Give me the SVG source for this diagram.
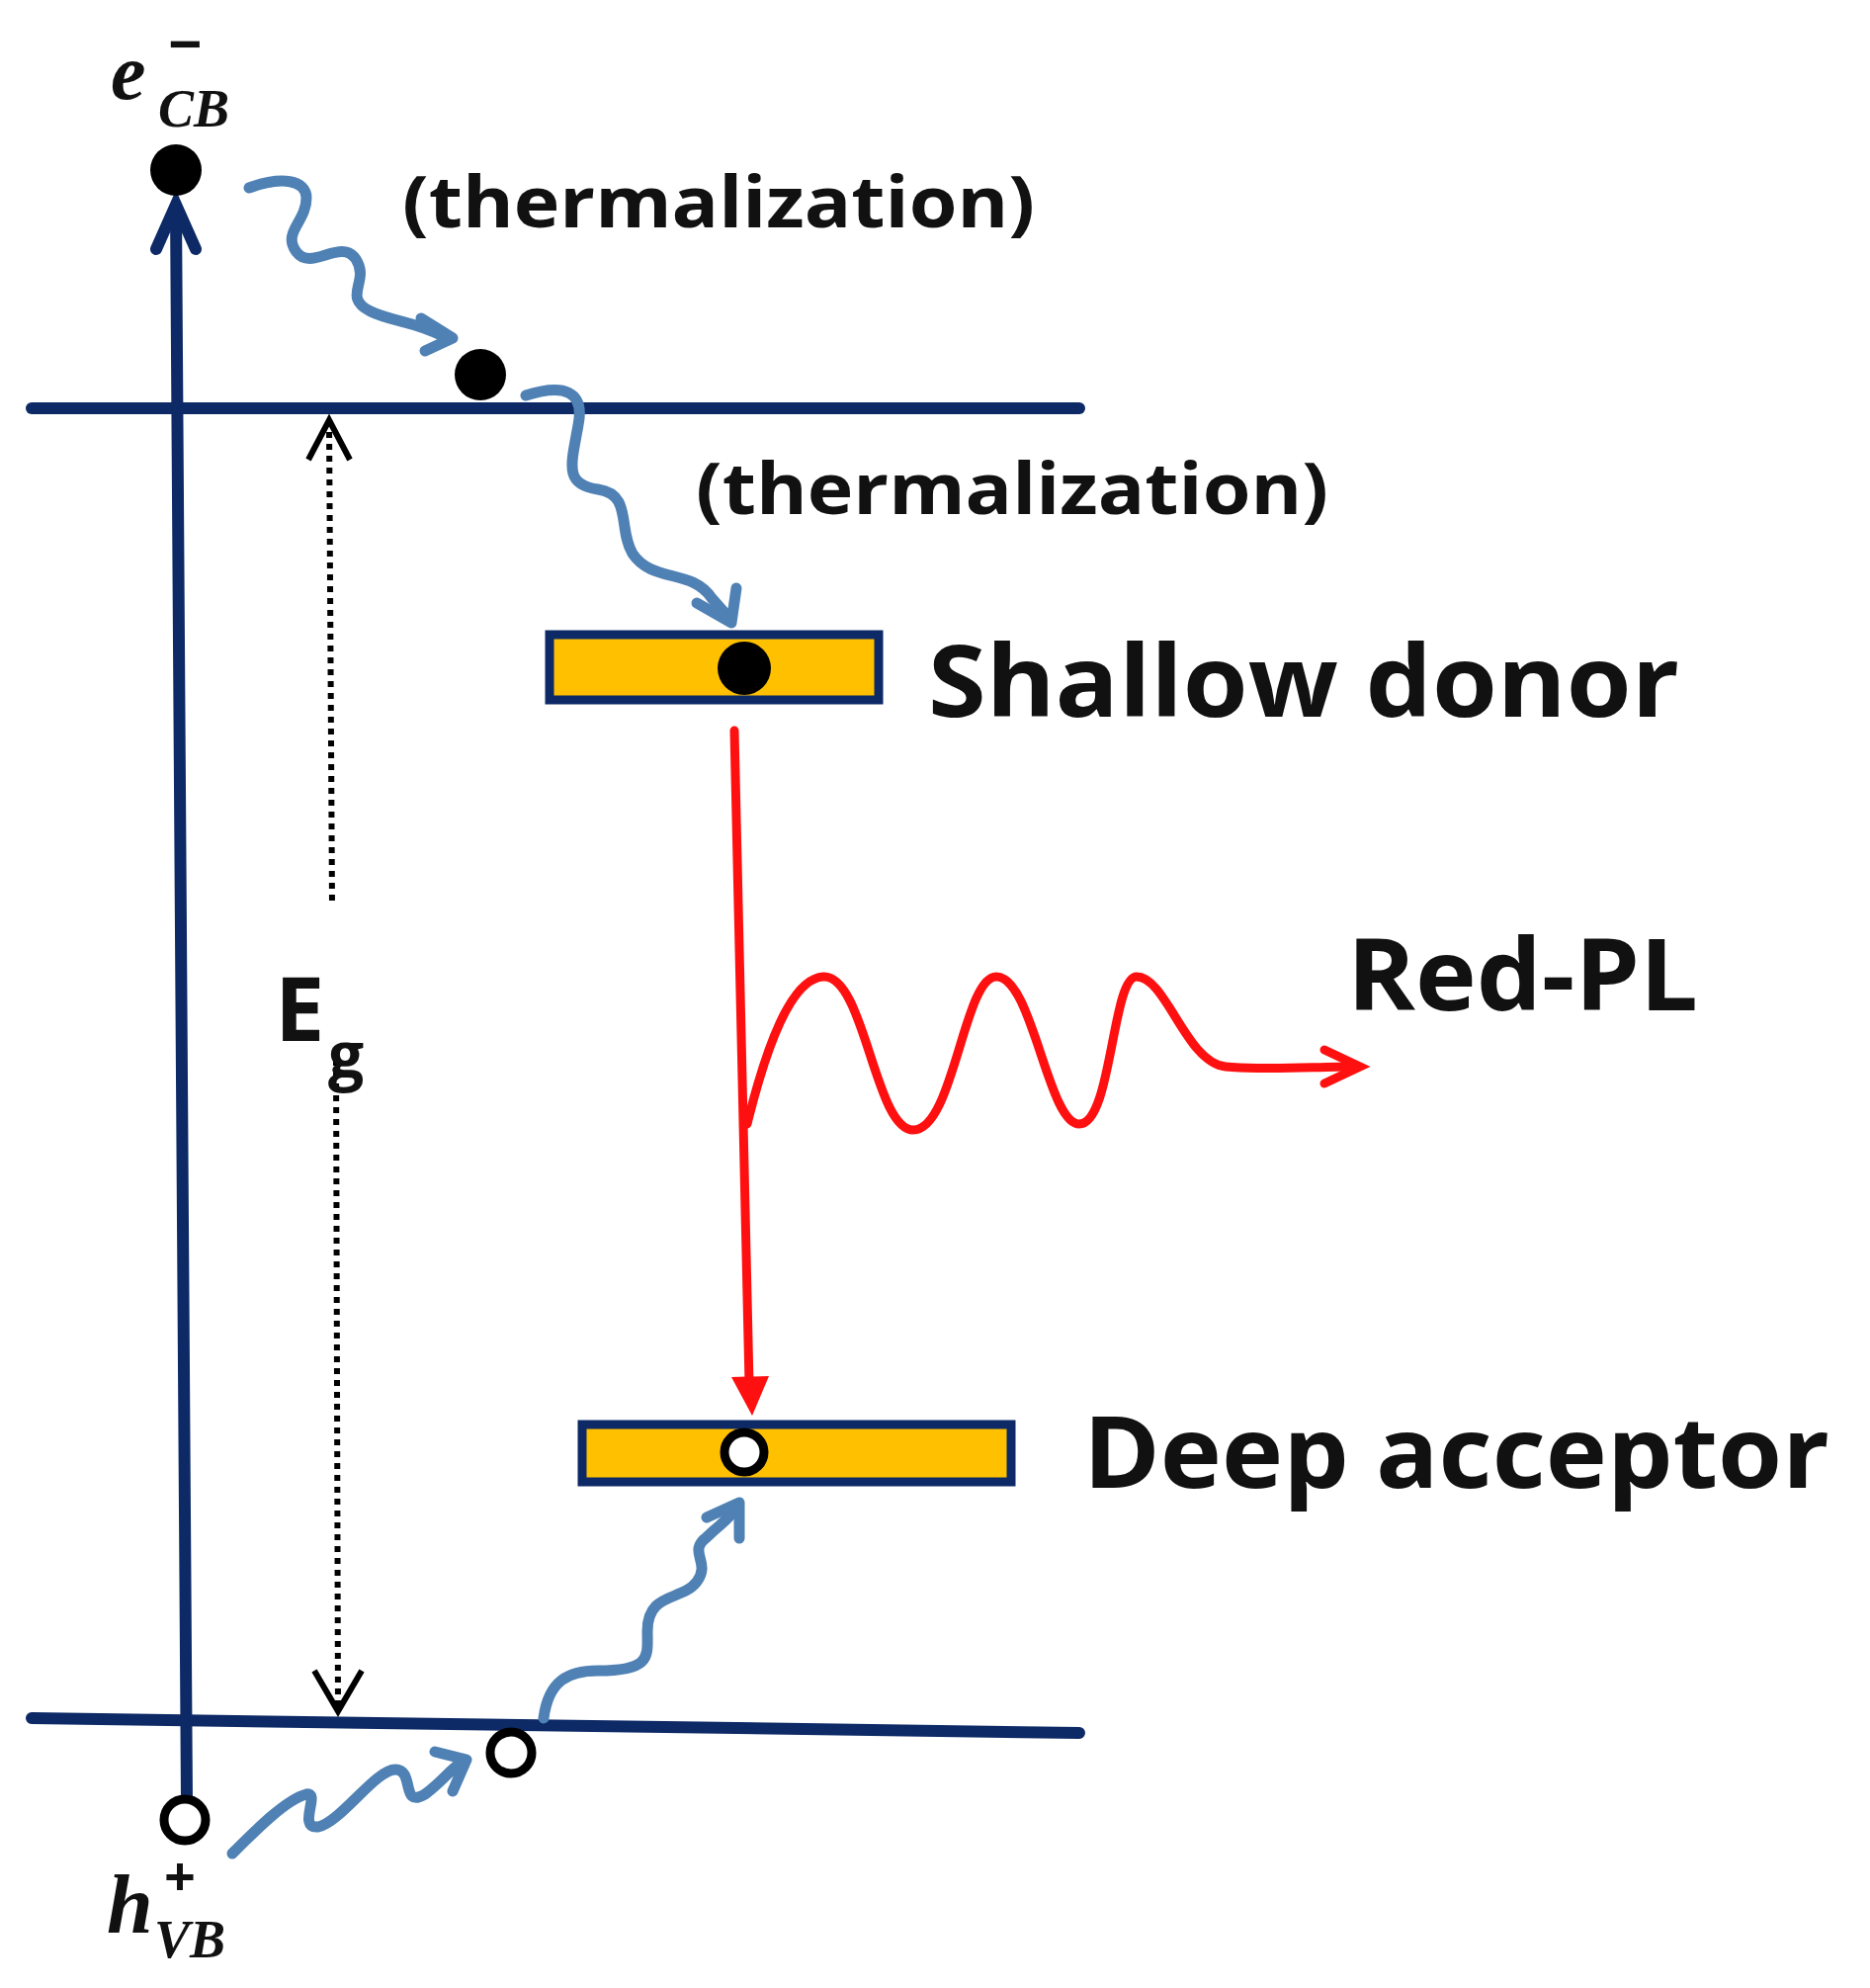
<svg xmlns="http://www.w3.org/2000/svg" width="1892" height="2011" viewBox="0 0 1892 2011">
<style>
.band{stroke:#0d2a66;stroke-width:12;fill:none;stroke-linecap:round}
.lvl{fill:#ffc000;stroke:#0d2a66;stroke-width:9}
.wave{stroke:#4f81b4;stroke-width:11;fill:none;stroke-linecap:round;stroke-linejoin:round}
.red{stroke:#ff1010;stroke-width:9;fill:none;stroke-linecap:round}
.t{font-family:"Open Sans","Liberation Sans",sans-serif;font-weight:bold;fill:#111}
.m{font-family:"Liberation Serif",serif;font-weight:bold;font-style:italic;fill:#111}
.dot{fill:#000}
.hole{fill:#fff;stroke:#000;stroke-width:9}
</style>
<g id="connectors">
<line class="band" x1="32" y1="413" x2="1092" y2="413"/>
<line class="band" x1="32" y1="1738" x2="1092" y2="1753"/>
<line class="band" x1="178" y1="210" x2="189" y2="1822"/>
<path class="band" d="M158,252 L178,207 L198,252" stroke-width="9"/>
<line x1="333" y1="425" x2="336" y2="917" stroke="#000" stroke-width="6" stroke-dasharray="6,6"/>
<path d="M312,465 L333,425 L354,465" stroke="#000" stroke-width="6" fill="none"/>
<line x1="340" y1="1072" x2="342" y2="1731" stroke="#000" stroke-width="6" stroke-dasharray="6,6"/>
<path d="M318,1690 L342,1731 L366,1690" stroke="#000" stroke-width="6" fill="none"/>
<path class="wave" d="M252,190 C285,178 310,182 310,200 C310,225 285,235 300,255 C315,275 345,240 360,262 C375,285 345,300 375,315 C395,325 420,325 448,340"/>
<path class="wave" d="M426,322 L458,342 L430,355"/>
<path class="wave" d="M532,400 C570,388 592,395 585,430 C578,470 570,490 605,495 C640,500 625,535 640,560 C660,590 700,575 720,605 L735,622"/>
<path class="wave" d="M705,610 L740,630 L745,595"/>
<path class="wave" d="M235,1875 C260,1850 290,1820 310,1815 C325,1812 300,1850 322,1848 C345,1843 380,1790 400,1790 C420,1790 405,1830 430,1815 C450,1800 455,1790 468,1782"/>
<path class="wave" d="M440,1772 L472,1780 L458,1812"/>
<path class="wave" d="M550,1738 C555,1700 575,1690 605,1690 C660,1690 655,1675 655,1650 C655,1610 690,1620 705,1600 C720,1580 695,1570 715,1555 C730,1540 735,1540 745,1525"/>
<path class="wave" d="M715,1535 L748,1520 L748,1556"/>
<path class="red" d="M743,739 L758,1400"/>
<path d="M740,1393 L761,1432 L778,1392 Z" fill="#ff1010"/>
<path class="red" d="M756,1137 C775,1060 800,990 833,988 C875,986 885,1143 924,1143 C965,1143 975,988 1008,988 C1045,988 1060,1137 1092,1137 C1125,1137 1125,988 1150,988 C1180,988 1200,1075 1240,1079 C1280,1083 1330,1079 1370,1079"/>
<path class="red" d="M1340,1062 L1376,1079 L1340,1096"/>
</g>
<g id="e-cb"><circle class="dot" cx="178" cy="172" r="26"/>
<text class="m" x="112" y="100" font-size="80">e</text><text class="m" x="160" y="128" font-size="54" font-weight="normal">CB</text><text class="t" x="170" y="66" font-size="60">−</text></g>
<g id="e-mid"><circle class="dot" cx="486" cy="379" r="26"/></g>
<g id="therm1"><text class="t" x="407" y="230" font-size="72" textLength="640" lengthAdjust="spacingAndGlyphs">(thermalization)</text></g>
<g id="therm2"><text class="t" x="704" y="520" font-size="72" textLength="640" lengthAdjust="spacingAndGlyphs">(thermalization)</text></g>
<g id="shallow"><rect class="lvl" x="556" y="642" width="333" height="66"/><circle class="dot" cx="753" cy="676" r="27"/>
<text class="t" x="939" y="725" font-size="100" textLength="760" lengthAdjust="spacingAndGlyphs">Shallow donor</text></g>
<g id="deep"><rect class="lvl" x="589" y="1441" width="434" height="58"/><circle class="hole" cx="753" cy="1469" r="20"/>
<text class="t" x="1096" y="1505" font-size="100" textLength="755" lengthAdjust="spacingAndGlyphs">Deep acceptor</text></g>
<g id="redpl"><text class="t" x="1363" y="1022" font-size="100" textLength="355" lengthAdjust="spacingAndGlyphs">Red-PL</text></g>
<g id="eg"><text class="t" x="278" y="1053" font-size="90">E</text><text class="t" x="332" y="1090" font-size="64">g</text></g>
<g id="h1"><circle class="hole" cx="187" cy="1841" r="21"/></g>
<g id="h2"><circle class="hole" cx="517" cy="1773" r="21"/></g>
<g id="h-vb"><text class="m" x="108" y="1955" font-size="84">h</text><text class="m" x="156" y="1980" font-size="54" font-weight="normal">VB</text><text class="t" x="166" y="1918" font-size="56">+</text></g>
</svg>
